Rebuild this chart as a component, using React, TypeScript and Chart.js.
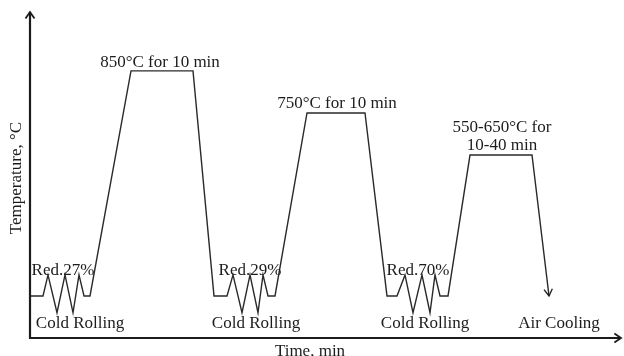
import React, { useEffect, useRef } from "react";
import { Chart, registerables } from "chart.js";

Chart.register(...registerables);

// Schematic heat-treatment path (time in arbitrary minutes, temperature in schematic °C)
const time = [
  0, 3.25, 4.5, 6.75, 8.75, 10.75, 12.25, 13.5, 15, 25.25, 40.75, 46,
  49.25, 50.75, 53, 55, 57, 58.25, 59.5, 61.25, 69.25, 83.75, 89.25,
  91.75, 93.75, 95.75, 98, 100, 101.25, 102.5, 104.5, 110, 125.5, 129.75,
];
const temperature = [
  315, 315, 365, 275, 365, 275, 365, 315, 315, 850, 850, 315,
  315, 365, 275, 365, 275, 365, 315, 315, 750, 750, 315,
  315, 365, 275, 365, 275, 365, 315, 315, 650, 650, 315,
];

const labelTexts = [
  "850°C for 10 min",
  "750°C for 10 min",
  "550-650°C for",
  "10-40 min",
  "Red.27%",
  "Cold Rolling",
  "Red.29%",
  "Cold Rolling",
  "Red.70%",
  "Cold Rolling",
  "Air Cooling",
];
const labelTime = [32.5, 76.75, 118, 118, 8.25, 12.5, 55, 56.5, 97, 98.75, 132.25];
const labelTemp = [859, 762, 705, 662, 365, 239, 365, 239, 365, 239, 239];

const xTitle = "Time, min";
const yTitle = "Temperature, °C";

const INK = "#1c1c1c";
const FONT = '17px "Liberation Serif", "DejaVu Serif", serif';

function chevron(ctx: CanvasRenderingContext2D, tx: number, ty: number, ang: number, len: number, spread: number) {
  ctx.beginPath();
  ctx.moveTo(tx - len * Math.cos(ang - spread), ty - len * Math.sin(ang - spread));
  ctx.lineTo(tx, ty);
  ctx.lineTo(tx - len * Math.cos(ang + spread), ty - len * Math.sin(ang + spread));
  ctx.stroke();
}

const overlay = {
  id: "overlay",
  afterDatasetsDraw(chart: any) {
    const { ctx, chartArea: a, scales } = chart;
    const xs = scales.x;
    const ys = scales.y;
    ctx.save();
    ctx.strokeStyle = INK;
    ctx.lineWidth = 2.2;
    ctx.lineCap = "butt";
    ctx.beginPath();
    ctx.moveTo(a.left, a.top);
    ctx.lineTo(a.left, a.bottom);
    ctx.lineTo(a.right, a.bottom);
    ctx.stroke();
    ctx.lineWidth = 1.8;
    chevron(ctx, a.left, a.top, -Math.PI / 2, 8, 0.6);
    chevron(ctx, a.right, a.bottom, 0, 8, 0.6);

    // air-cooling arrow head at the end of the path
    const n = time.length;
    const ex = xs.getPixelForValue(time[n - 1]);
    const ey = ys.getPixelForValue(temperature[n - 1]);
    const px = xs.getPixelForValue(time[n - 2]);
    const py = ys.getPixelForValue(temperature[n - 2]);
    ctx.lineWidth = 1.3;
    chevron(ctx, ex, ey, Math.atan2(ey - py, ex - px), 8, 0.55);

    ctx.fillStyle = INK;
    ctx.font = FONT;
    ctx.textAlign = "center";
    ctx.textBaseline = "alphabetic";
    labelTexts.forEach((t, i) => {
      ctx.fillText(t, xs.getPixelForValue(labelTime[i]), ys.getPixelForValue(labelTemp[i]));
    });

    ctx.textBaseline = "middle";
    ctx.fillText(xTitle, 310, a.bottom + 14);
    ctx.translate(a.left - 13, 178);
    ctx.rotate(-Math.PI / 2);
    ctx.fillText(yTitle, 0, 0);
    ctx.restore();
  },
};

export default function App() {
  const ref = useRef<HTMLCanvasElement | null>(null);
  useEffect(() => {
    if (!ref.current) return;
    const chart = new Chart(ref.current, {
      type: "scatter",
      data: {
        datasets: [
          {
            data: time.map((t, i) => ({ x: t, y: temperature[i] })),
            showLine: true,
            borderColor: "#2a2a2a",
            borderWidth: 1.4,
            pointRadius: 0,
            tension: 0,
            fill: false,
          },
        ],
      },
      options: {
        animation: false,
        responsive: true,
        maintainAspectRatio: false,
        layout: { padding: { left: 30, right: 3, top: 12, bottom: 18 } },
        plugins: { legend: { display: false }, tooltip: { enabled: false } },
        scales: {
          x: { type: "linear", display: false, min: 0, max: 147.75 },
          y: { type: "linear", display: false, min: 215, max: 990 },
        },
      },
      plugins: [overlay],
    });
    return () => chart.destroy();
  }, []);
  return (
    <div style={{ position: "absolute", left: 0, top: 0, width: 624, height: 356, background: "#fff" }}>
      <canvas ref={ref} />
    </div>
  );
}
